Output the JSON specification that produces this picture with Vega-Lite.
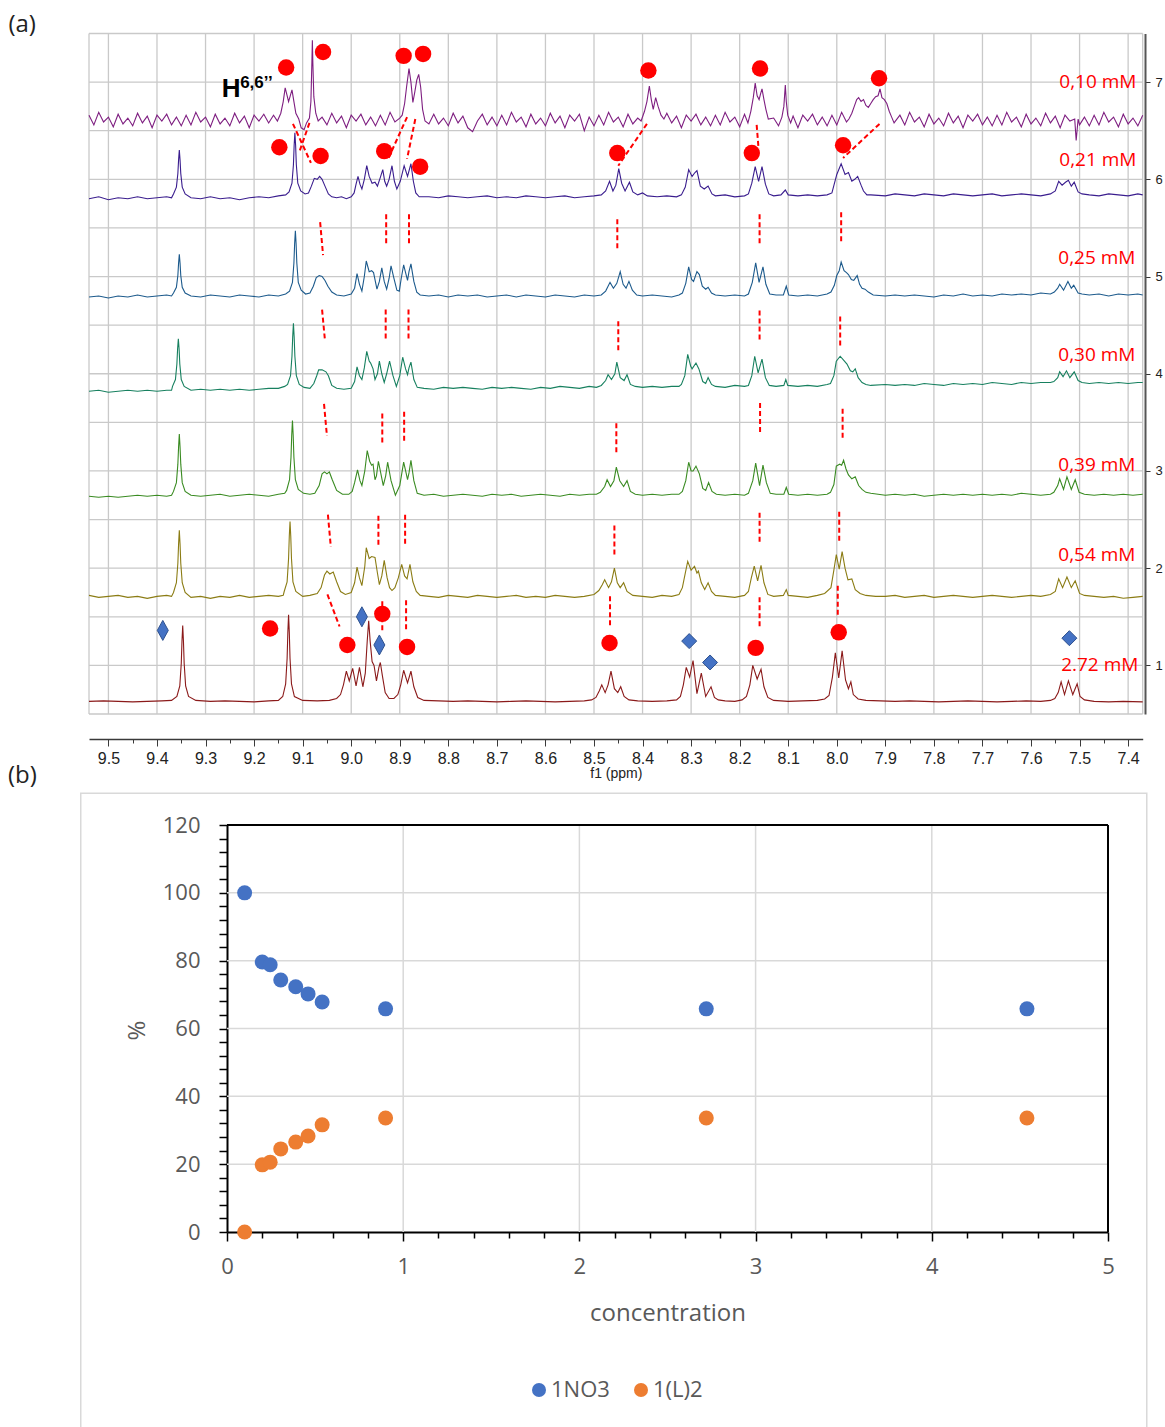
{
"$schema": "https://vega.github.io/schema/vega-lite/v6.json",
"width": 1165, "height": 1427,
"autosize": {"type": "none"},
"padding": 0,
"background": "#ffffff",
"config": {"view": {"stroke": null}, "font": "Open Sans"},
"datasets": {
"spec": [
{"s":"a","x":9.54,"y":6.66},{"s":"a","x":9.53,"y":6.56},{"s":"a","x":9.52,"y":6.69},{"s":"a","x":9.51,"y":6.59},{"s":"a","x":9.50,"y":6.64},{"s":"a","x":9.49,"y":6.54},{"s":"a","x":9.48,"y":6.67},{"s":"a","x":9.47,"y":6.57},{"s":"a","x":9.46,"y":6.63},{"s":"a","x":9.45,"y":6.55},{"s":"a","x":9.44,"y":6.68},{"s":"a","x":9.43,"y":6.58},{"s":"a","x":9.42,"y":6.65},{"s":"a","x":9.41,"y":6.53},{"s":"a","x":9.40,"y":6.66},{"s":"a","x":9.39,"y":6.60},{"s":"a","x":9.38,"y":6.67},{"s":"a","x":9.37,"y":6.56},{"s":"a","x":9.36,"y":6.64},{"s":"a","x":9.35,"y":6.55},{"s":"a","x":9.34,"y":6.66},{"s":"a","x":9.33,"y":6.56},{"s":"a","x":9.32,"y":6.69},{"s":"a","x":9.31,"y":6.59},{"s":"a","x":9.30,"y":6.64},{"s":"a","x":9.29,"y":6.54},{"s":"a","x":9.28,"y":6.67},{"s":"a","x":9.27,"y":6.57},{"s":"a","x":9.26,"y":6.63},{"s":"a","x":9.25,"y":6.55},{"s":"a","x":9.24,"y":6.68},{"s":"a","x":9.23,"y":6.58},{"s":"a","x":9.22,"y":6.65},{"s":"a","x":9.21,"y":6.53},{"s":"a","x":9.20,"y":6.66},{"s":"a","x":9.19,"y":6.60},{"s":"a","x":9.18,"y":6.67},{"s":"a","x":9.17,"y":6.58},{"s":"a","x":9.16,"y":6.66},{"s":"a","x":9.152,"y":6.60},
{"s":"a","x":9.145,"y":6.68},{"s":"a","x":9.140,"y":6.80},{"s":"a","x":9.136,"y":6.94},{"s":"a","x":9.132,"y":6.86},{"s":"a","x":9.129,"y":6.80},{"s":"a","x":9.126,"y":6.85},{"s":"a","x":9.122,"y":6.92},{"s":"a","x":9.118,"y":6.80},{"s":"a","x":9.114,"y":6.68},{"s":"a","x":9.108,"y":6.62},{"s":"a","x":9.103,"y":6.53},{"s":"a","x":9.097,"y":6.51},{"s":"a","x":9.092,"y":6.58},{"s":"a","x":9.086,"y":6.63},{"s":"a","x":9.083,"y":6.80},{"s":"a","x":9.081,"y":7.20},{"s":"a","x":9.080,"y":7.43},{"s":"a","x":9.079,"y":7.20},{"s":"a","x":9.077,"y":6.85},{"s":"a","x":9.073,"y":6.68},{"s":"a","x":9.068,"y":6.60},{"s":"a","x":9.06,"y":6.64},
{"s":"a","x":9.05,"y":6.56},{"s":"a","x":9.04,"y":6.68},{"s":"a","x":9.03,"y":6.58},{"s":"a","x":9.02,"y":6.65},{"s":"a","x":9.01,"y":6.53},{"s":"a","x":9.00,"y":6.66},{"s":"a","x":8.99,"y":6.60},{"s":"a","x":8.98,"y":6.67},{"s":"a","x":8.97,"y":6.56},{"s":"a","x":8.96,"y":6.64},{"s":"a","x":8.95,"y":6.55},{"s":"a","x":8.94,"y":6.66},{"s":"a","x":8.93,"y":6.56},{"s":"a","x":8.92,"y":6.69},{"s":"a","x":8.91,"y":6.59},{"s":"a","x":8.90,"y":6.63},
{"s":"a","x":8.895,"y":6.66},{"s":"a","x":8.890,"y":6.78},{"s":"a","x":8.886,"y":6.95},{"s":"a","x":8.881,"y":7.14},{"s":"a","x":8.877,"y":7.00},{"s":"a","x":8.873,"y":6.79},{"s":"a","x":8.869,"y":6.90},{"s":"a","x":8.865,"y":7.02},{"s":"a","x":8.861,"y":7.08},{"s":"a","x":8.857,"y":6.95},{"s":"a","x":8.853,"y":6.72},{"s":"a","x":8.848,"y":6.60},{"s":"a","x":8.84,"y":6.57},
{"s":"a","x":8.83,"y":6.67},{"s":"a","x":8.82,"y":6.57},{"s":"a","x":8.81,"y":6.63},{"s":"a","x":8.80,"y":6.55},{"s":"a","x":8.79,"y":6.68},{"s":"a","x":8.78,"y":6.58},{"s":"a","x":8.77,"y":6.65},{"s":"a","x":8.76,"y":6.53},{"s":"a","x":8.75,"y":6.49},{"s":"a","x":8.74,"y":6.60},{"s":"a","x":8.73,"y":6.67},{"s":"a","x":8.72,"y":6.56},{"s":"a","x":8.71,"y":6.64},{"s":"a","x":8.70,"y":6.55},{"s":"a","x":8.69,"y":6.66},{"s":"a","x":8.68,"y":6.56},{"s":"a","x":8.67,"y":6.69},{"s":"a","x":8.66,"y":6.59},{"s":"a","x":8.65,"y":6.64},{"s":"a","x":8.64,"y":6.54},{"s":"a","x":8.63,"y":6.67},{"s":"a","x":8.62,"y":6.57},{"s":"a","x":8.61,"y":6.63},{"s":"a","x":8.60,"y":6.55},{"s":"a","x":8.59,"y":6.68},{"s":"a","x":8.58,"y":6.58},{"s":"a","x":8.57,"y":6.65},{"s":"a","x":8.56,"y":6.53},{"s":"a","x":8.55,"y":6.66},{"s":"a","x":8.54,"y":6.60},{"s":"a","x":8.53,"y":6.67},{"s":"a","x":8.52,"y":6.50},{"s":"a","x":8.51,"y":6.64},{"s":"a","x":8.50,"y":6.55},{"s":"a","x":8.49,"y":6.66},{"s":"a","x":8.48,"y":6.56},{"s":"a","x":8.47,"y":6.69},{"s":"a","x":8.46,"y":6.59},{"s":"a","x":8.45,"y":6.64},{"s":"a","x":8.44,"y":6.54},{"s":"a","x":8.43,"y":6.67},{"s":"a","x":8.42,"y":6.57},{"s":"a","x":8.41,"y":6.63},
{"s":"a","x":8.403,"y":6.60},{"s":"a","x":8.396,"y":6.70},{"s":"a","x":8.391,"y":6.80},{"s":"a","x":8.386,"y":6.96},{"s":"a","x":8.382,"y":6.82},{"s":"a","x":8.378,"y":6.72},{"s":"a","x":8.373,"y":6.84},{"s":"a","x":8.368,"y":6.75},{"s":"a","x":8.362,"y":6.66},{"s":"a","x":8.356,"y":6.62},
{"s":"a","x":8.35,"y":6.68},{"s":"a","x":8.34,"y":6.58},{"s":"a","x":8.33,"y":6.65},{"s":"a","x":8.32,"y":6.53},{"s":"a","x":8.31,"y":6.66},{"s":"a","x":8.30,"y":6.60},{"s":"a","x":8.29,"y":6.67},{"s":"a","x":8.28,"y":6.56},{"s":"a","x":8.27,"y":6.64},{"s":"a","x":8.26,"y":6.55},{"s":"a","x":8.25,"y":6.66},{"s":"a","x":8.24,"y":6.56},{"s":"a","x":8.23,"y":6.69},{"s":"a","x":8.22,"y":6.59},{"s":"a","x":8.21,"y":6.64},{"s":"a","x":8.20,"y":6.54},{"s":"a","x":8.19,"y":6.67},
{"s":"a","x":8.183,"y":6.58},{"s":"a","x":8.177,"y":6.70},{"s":"a","x":8.172,"y":6.84},{"s":"a","x":8.168,"y":6.99},{"s":"a","x":8.164,"y":6.86},{"s":"a","x":8.160,"y":6.82},{"s":"a","x":8.157,"y":6.88},{"s":"a","x":8.154,"y":6.93},{"s":"a","x":8.150,"y":6.82},{"s":"a","x":8.146,"y":6.72},{"s":"a","x":8.141,"y":6.62},
{"s":"a","x":8.13,"y":6.63},{"s":"a","x":8.12,"y":6.55},{"s":"a","x":8.113,"y":6.64},{"s":"a","x":8.109,"y":6.75},{"s":"a","x":8.106,"y":6.97},{"s":"a","x":8.104,"y":6.80},{"s":"a","x":8.101,"y":6.66},{"s":"a","x":8.095,"y":6.58},{"s":"a","x":8.09,"y":6.65},{"s":"a","x":8.08,"y":6.53},{"s":"a","x":8.07,"y":6.66},{"s":"a","x":8.06,"y":6.60},{"s":"a","x":8.05,"y":6.67},{"s":"a","x":8.04,"y":6.56},{"s":"a","x":8.03,"y":6.64},{"s":"a","x":8.02,"y":6.55},{"s":"a","x":8.01,"y":6.66},{"s":"a","x":8.00,"y":6.56},{"s":"a","x":7.99,"y":6.69},{"s":"a","x":7.98,"y":6.59},{"s":"a","x":7.975,"y":6.62},
{"s":"a","x":7.969,"y":6.68},{"s":"a","x":7.964,"y":6.75},{"s":"a","x":7.959,"y":6.82},{"s":"a","x":7.955,"y":6.84},{"s":"a","x":7.950,"y":6.80},{"s":"a","x":7.945,"y":6.82},{"s":"a","x":7.940,"y":6.76},{"s":"a","x":7.935,"y":6.74},{"s":"a","x":7.930,"y":6.78},{"s":"a","x":7.925,"y":6.82},{"s":"a","x":7.920,"y":6.85},{"s":"a","x":7.915,"y":6.86},{"s":"a","x":7.911,"y":6.93},{"s":"a","x":7.907,"y":6.84},{"s":"a","x":7.902,"y":6.82},{"s":"a","x":7.897,"y":6.78},{"s":"a","x":7.892,"y":6.70},{"s":"a","x":7.887,"y":6.64},{"s":"a","x":7.882,"y":6.58},
{"s":"a","x":7.87,"y":6.66},{"s":"a","x":7.86,"y":6.56},{"s":"a","x":7.85,"y":6.69},{"s":"a","x":7.84,"y":6.59},{"s":"a","x":7.83,"y":6.64},{"s":"a","x":7.82,"y":6.54},{"s":"a","x":7.81,"y":6.67},{"s":"a","x":7.80,"y":6.57},{"s":"a","x":7.79,"y":6.63},{"s":"a","x":7.78,"y":6.55},{"s":"a","x":7.77,"y":6.68},{"s":"a","x":7.76,"y":6.58},{"s":"a","x":7.75,"y":6.65},{"s":"a","x":7.74,"y":6.53},{"s":"a","x":7.73,"y":6.66},{"s":"a","x":7.72,"y":6.60},{"s":"a","x":7.71,"y":6.67},{"s":"a","x":7.70,"y":6.56},{"s":"a","x":7.69,"y":6.64},{"s":"a","x":7.68,"y":6.55},{"s":"a","x":7.67,"y":6.66},{"s":"a","x":7.66,"y":6.56},{"s":"a","x":7.65,"y":6.69},{"s":"a","x":7.64,"y":6.59},{"s":"a","x":7.63,"y":6.64},{"s":"a","x":7.62,"y":6.54},{"s":"a","x":7.61,"y":6.67},{"s":"a","x":7.60,"y":6.57},{"s":"a","x":7.59,"y":6.63},{"s":"a","x":7.58,"y":6.55},{"s":"a","x":7.57,"y":6.68},{"s":"a","x":7.56,"y":6.58},{"s":"a","x":7.55,"y":6.65},{"s":"a","x":7.54,"y":6.53},{"s":"a","x":7.53,"y":6.66},{"s":"a","x":7.52,"y":6.60},{"s":"a","x":7.51,"y":6.62},{"s":"a","x":7.507,"y":6.40},{"s":"a","x":7.503,"y":6.62},{"s":"a","x":7.50,"y":6.56},{"s":"a","x":7.49,"y":6.64},{"s":"a","x":7.48,"y":6.55},{"s":"a","x":7.47,"y":6.66},{"s":"a","x":7.46,"y":6.56},{"s":"a","x":7.45,"y":6.69},{"s":"a","x":7.44,"y":6.59},{"s":"a","x":7.43,"y":6.64},{"s":"a","x":7.42,"y":6.54},{"s":"a","x":7.41,"y":6.67},{"s":"a","x":7.40,"y":6.57},{"s":"a","x":7.39,"y":6.63},{"s":"a","x":7.38,"y":6.55},{"s":"a","x":7.37,"y":6.66},

{"s":"b","x":9.54,"y":5.80},{"s":"b","x":9.52,"y":5.82},{"s":"b","x":9.50,"y":5.79},{"s":"b","x":9.48,"y":5.81},{"s":"b","x":9.46,"y":5.80},{"s":"b","x":9.44,"y":5.82},{"s":"b","x":9.42,"y":5.80},{"s":"b","x":9.40,"y":5.81},{"s":"b","x":9.38,"y":5.82},{"s":"b","x":9.37,"y":5.81},
{"s":"b","x":9.366,"y":5.85},{"s":"b","x":9.360,"y":5.92},{"s":"b","x":9.357,"y":6.06},{"s":"b","x":9.3555,"y":6.20},{"s":"b","x":9.354,"y":6.30},{"s":"b","x":9.3525,"y":6.20},{"s":"b","x":9.351,"y":6.06},{"s":"b","x":9.348,"y":5.92},{"s":"b","x":9.342,"y":5.85},
{"s":"b","x":9.33,"y":5.81},{"s":"b","x":9.31,"y":5.80},{"s":"b","x":9.29,"y":5.82},{"s":"b","x":9.27,"y":5.80},{"s":"b","x":9.25,"y":5.81},{"s":"b","x":9.23,"y":5.79},{"s":"b","x":9.21,"y":5.81},{"s":"b","x":9.19,"y":5.82},{"s":"b","x":9.17,"y":5.81},{"s":"b","x":9.15,"y":5.83},{"s":"b","x":9.135,"y":5.84},
{"s":"b","x":9.128,"y":5.87},{"s":"b","x":9.122,"y":5.96},{"s":"b","x":9.119,"y":6.15},{"s":"b","x":9.1175,"y":6.35},{"s":"b","x":9.116,"y":6.48},{"s":"b","x":9.1145,"y":6.35},{"s":"b","x":9.113,"y":6.15},{"s":"b","x":9.110,"y":5.96},{"s":"b","x":9.104,"y":5.88},
{"s":"b","x":9.095,"y":5.85},{"s":"b","x":9.088,"y":5.86},{"s":"b","x":9.082,"y":5.93},{"s":"b","x":9.076,"y":6.01},{"s":"b","x":9.070,"y":6.00},{"s":"b","x":9.065,"y":6.03},{"s":"b","x":9.060,"y":6.00},{"s":"b","x":9.054,"y":5.93},{"s":"b","x":9.047,"y":5.85},{"s":"b","x":9.04,"y":5.82},{"s":"b","x":9.03,"y":5.81},{"s":"b","x":9.02,"y":5.82},{"s":"b","x":9.01,"y":5.80},{"s":"b","x":9.00,"y":5.82},
{"s":"b","x":8.994,"y":5.86},{"s":"b","x":8.990,"y":5.95},{"s":"b","x":8.986,"y":6.03},{"s":"b","x":8.982,"y":5.95},{"s":"b","x":8.978,"y":5.90},{"s":"b","x":8.973,"y":6.00},{"s":"b","x":8.968,"y":6.14},{"s":"b","x":8.963,"y":6.03},{"s":"b","x":8.957,"y":5.96},{"s":"b","x":8.951,"y":5.97},{"s":"b","x":8.946,"y":5.93},{"s":"b","x":8.940,"y":6.02},{"s":"b","x":8.935,"y":6.10},{"s":"b","x":8.931,"y":5.98},{"s":"b","x":8.927,"y":5.93},{"s":"b","x":8.922,"y":6.00},{"s":"b","x":8.916,"y":6.14},{"s":"b","x":8.911,"y":5.98},{"s":"b","x":8.906,"y":5.90},{"s":"b","x":8.899,"y":5.98},{"s":"b","x":8.891,"y":6.14},{"s":"b","x":8.884,"y":6.03},{"s":"b","x":8.877,"y":6.16},{"s":"b","x":8.872,"y":5.98},{"s":"b","x":8.867,"y":5.86},{"s":"b","x":8.86,"y":5.82},
{"s":"b","x":8.84,"y":5.82},{"s":"b","x":8.82,"y":5.81},{"s":"b","x":8.80,"y":5.83},{"s":"b","x":8.78,"y":5.82},{"s":"b","x":8.76,"y":5.81},{"s":"b","x":8.74,"y":5.82},{"s":"b","x":8.72,"y":5.83},{"s":"b","x":8.70,"y":5.81},{"s":"b","x":8.68,"y":5.82},{"s":"b","x":8.66,"y":5.81},{"s":"b","x":8.64,"y":5.83},{"s":"b","x":8.62,"y":5.82},{"s":"b","x":8.60,"y":5.81},{"s":"b","x":8.58,"y":5.82},{"s":"b","x":8.56,"y":5.83},{"s":"b","x":8.54,"y":5.81},{"s":"b","x":8.52,"y":5.82},{"s":"b","x":8.50,"y":5.83},{"s":"b","x":8.485,"y":5.84},
{"s":"b","x":8.476,"y":5.88},{"s":"b","x":8.468,"y":5.98},{"s":"b","x":8.461,"y":5.88},{"s":"b","x":8.455,"y":5.94},{"s":"b","x":8.449,"y":6.11},{"s":"b","x":8.443,"y":5.96},{"s":"b","x":8.436,"y":5.88},{"s":"b","x":8.427,"y":5.97},{"s":"b","x":8.420,"y":5.87},{"s":"b","x":8.41,"y":5.84},{"s":"b","x":8.40,"y":5.86},{"s":"b","x":8.39,"y":5.83},{"s":"b","x":8.37,"y":5.82},{"s":"b","x":8.35,"y":5.83},{"s":"b","x":8.33,"y":5.82},{"s":"b","x":8.32,"y":5.84},
{"s":"b","x":8.312,"y":5.92},{"s":"b","x":8.305,"y":6.10},{"s":"b","x":8.298,"y":6.03},{"s":"b","x":8.292,"y":6.07},{"s":"b","x":8.288,"y":6.09},{"s":"b","x":8.281,"y":5.93},{"s":"b","x":8.273,"y":5.90},{"s":"b","x":8.265,"y":5.93},{"s":"b","x":8.257,"y":5.85},{"s":"b","x":8.25,"y":5.83},{"s":"b","x":8.23,"y":5.84},{"s":"b","x":8.21,"y":5.82},{"s":"b","x":8.19,"y":5.83},{"s":"b","x":8.182,"y":5.85},
{"s":"b","x":8.175,"y":5.96},{"s":"b","x":8.168,"y":6.13},{"s":"b","x":8.161,"y":5.98},{"s":"b","x":8.154,"y":6.13},{"s":"b","x":8.147,"y":5.95},{"s":"b","x":8.140,"y":5.85},{"s":"b","x":8.13,"y":5.83},{"s":"b","x":8.115,"y":5.84},{"s":"b","x":8.106,"y":5.89},{"s":"b","x":8.10,"y":5.84},{"s":"b","x":8.08,"y":5.83},{"s":"b","x":8.06,"y":5.84},{"s":"b","x":8.04,"y":5.83},{"s":"b","x":8.02,"y":5.84},{"s":"b","x":8.01,"y":5.86},
{"s":"b","x":8.000,"y":6.05},{"s":"b","x":7.991,"y":6.16},{"s":"b","x":7.983,"y":6.05},{"s":"b","x":7.976,"y":6.07},{"s":"b","x":7.969,"y":5.98},{"s":"b","x":7.963,"y":6.00},{"s":"b","x":7.957,"y":6.03},{"s":"b","x":7.950,"y":5.94},{"s":"b","x":7.945,"y":5.88},{"s":"b","x":7.938,"y":5.84},{"s":"b","x":7.93,"y":5.84},
{"s":"b","x":7.90,"y":5.83},{"s":"b","x":7.88,"y":5.85},{"s":"b","x":7.86,"y":5.84},{"s":"b","x":7.84,"y":5.83},{"s":"b","x":7.82,"y":5.85},{"s":"b","x":7.80,"y":5.84},{"s":"b","x":7.78,"y":5.83},{"s":"b","x":7.76,"y":5.85},{"s":"b","x":7.74,"y":5.84},{"s":"b","x":7.72,"y":5.83},{"s":"b","x":7.70,"y":5.84},{"s":"b","x":7.68,"y":5.85},{"s":"b","x":7.66,"y":5.83},{"s":"b","x":7.64,"y":5.84},{"s":"b","x":7.62,"y":5.85},{"s":"b","x":7.60,"y":5.84},{"s":"b","x":7.58,"y":5.83},{"s":"b","x":7.56,"y":5.85},
{"s":"b","x":7.550,"y":5.88},{"s":"b","x":7.543,"y":5.98},{"s":"b","x":7.536,"y":5.94},{"s":"b","x":7.529,"y":5.97},{"s":"b","x":7.523,"y":5.99},{"s":"b","x":7.517,"y":5.93},{"s":"b","x":7.511,"y":5.97},{"s":"b","x":7.503,"y":5.87},{"s":"b","x":7.495,"y":5.85},
{"s":"b","x":7.48,"y":5.84},{"s":"b","x":7.46,"y":5.83},{"s":"b","x":7.44,"y":5.85},{"s":"b","x":7.42,"y":5.84},{"s":"b","x":7.40,"y":5.83},{"s":"b","x":7.38,"y":5.85},{"s":"b","x":7.37,"y":5.84},

{"s":"c","x":9.54,"y":4.79},{"s":"c","x":9.52,"y":4.80},{"s":"c","x":9.50,"y":4.78},{"s":"c","x":9.48,"y":4.80},{"s":"c","x":9.46,"y":4.79},{"s":"c","x":9.44,"y":4.81},{"s":"c","x":9.42,"y":4.79},{"s":"c","x":9.40,"y":4.80},{"s":"c","x":9.38,"y":4.81},{"s":"c","x":9.37,"y":4.80},
{"s":"c","x":9.366,"y":4.83},{"s":"c","x":9.360,"y":4.89},{"s":"c","x":9.357,"y":5.01},{"s":"c","x":9.3555,"y":5.14},{"s":"c","x":9.354,"y":5.23},{"s":"c","x":9.3525,"y":5.14},{"s":"c","x":9.351,"y":5.01},{"s":"c","x":9.348,"y":4.89},{"s":"c","x":9.342,"y":4.83},
{"s":"c","x":9.33,"y":4.80},{"s":"c","x":9.31,"y":4.79},{"s":"c","x":9.29,"y":4.81},{"s":"c","x":9.27,"y":4.80},{"s":"c","x":9.25,"y":4.79},{"s":"c","x":9.23,"y":4.81},{"s":"c","x":9.21,"y":4.80},{"s":"c","x":9.19,"y":4.79},{"s":"c","x":9.17,"y":4.81},{"s":"c","x":9.15,"y":4.80},{"s":"c","x":9.135,"y":4.82},
{"s":"c","x":9.127,"y":4.85},{"s":"c","x":9.121,"y":4.94},{"s":"c","x":9.118,"y":5.14},{"s":"c","x":9.1165,"y":5.34},{"s":"c","x":9.115,"y":5.47},{"s":"c","x":9.1135,"y":5.34},{"s":"c","x":9.112,"y":5.14},{"s":"c","x":9.109,"y":4.94},{"s":"c","x":9.103,"y":4.86},
{"s":"c","x":9.094,"y":4.82},{"s":"c","x":9.085,"y":4.83},{"s":"c","x":9.078,"y":4.90},{"s":"c","x":9.072,"y":4.99},{"s":"c","x":9.066,"y":5.01},{"s":"c","x":9.060,"y":5.00},{"s":"c","x":9.054,"y":4.96},{"s":"c","x":9.048,"y":4.90},{"s":"c","x":9.040,"y":4.84},{"s":"c","x":9.03,"y":4.81},{"s":"c","x":9.015,"y":4.80},{"s":"c","x":9.00,"y":4.82},
{"s":"c","x":8.993,"y":4.88},{"s":"c","x":8.988,"y":5.03},{"s":"c","x":8.983,"y":4.92},{"s":"c","x":8.978,"y":4.85},{"s":"c","x":8.973,"y":5.00},{"s":"c","x":8.969,"y":5.16},{"s":"c","x":8.963,"y":5.05},{"s":"c","x":8.958,"y":5.06},{"s":"c","x":8.954,"y":5.04},{"s":"c","x":8.947,"y":4.87},{"s":"c","x":8.942,"y":4.95},{"s":"c","x":8.937,"y":5.09},{"s":"c","x":8.932,"y":4.95},{"s":"c","x":8.927,"y":4.87},{"s":"c","x":8.922,"y":4.98},{"s":"c","x":8.918,"y":5.11},{"s":"c","x":8.912,"y":4.98},{"s":"c","x":8.906,"y":4.86},{"s":"c","x":8.901,"y":4.85},{"s":"c","x":8.897,"y":4.98},{"s":"c","x":8.892,"y":5.12},{"s":"c","x":8.887,"y":5.02},{"s":"c","x":8.884,"y":4.96},{"s":"c","x":8.881,"y":5.05},{"s":"c","x":8.877,"y":5.13},{"s":"c","x":8.871,"y":4.95},{"s":"c","x":8.865,"y":4.84},{"s":"c","x":8.858,"y":4.81},
{"s":"c","x":8.84,"y":4.80},{"s":"c","x":8.82,"y":4.81},{"s":"c","x":8.80,"y":4.79},{"s":"c","x":8.78,"y":4.81},{"s":"c","x":8.76,"y":4.80},{"s":"c","x":8.74,"y":4.81},{"s":"c","x":8.72,"y":4.79},{"s":"c","x":8.70,"y":4.80},{"s":"c","x":8.68,"y":4.81},{"s":"c","x":8.66,"y":4.79},{"s":"c","x":8.64,"y":4.81},{"s":"c","x":8.62,"y":4.80},{"s":"c","x":8.60,"y":4.79},{"s":"c","x":8.58,"y":4.81},{"s":"c","x":8.56,"y":4.80},{"s":"c","x":8.54,"y":4.79},{"s":"c","x":8.52,"y":4.81},{"s":"c","x":8.50,"y":4.80},{"s":"c","x":8.485,"y":4.81},
{"s":"c","x":8.476,"y":4.85},{"s":"c","x":8.467,"y":4.94},{"s":"c","x":8.460,"y":4.88},{"s":"c","x":8.453,"y":4.93},{"s":"c","x":8.446,"y":5.05},{"s":"c","x":8.440,"y":4.92},{"s":"c","x":8.434,"y":4.88},{"s":"c","x":8.428,"y":4.95},{"s":"c","x":8.421,"y":4.86},{"s":"c","x":8.412,"y":4.81},{"s":"c","x":8.40,"y":4.80},{"s":"c","x":8.38,"y":4.81},{"s":"c","x":8.36,"y":4.80},{"s":"c","x":8.34,"y":4.79},{"s":"c","x":8.325,"y":4.81},
{"s":"c","x":8.318,"y":4.83},{"s":"c","x":8.311,"y":4.93},{"s":"c","x":8.305,"y":5.10},{"s":"c","x":8.299,"y":4.97},{"s":"c","x":8.295,"y":4.95},{"s":"c","x":8.288,"y":5.05},{"s":"c","x":8.283,"y":5.02},{"s":"c","x":8.277,"y":4.90},{"s":"c","x":8.270,"y":4.87},{"s":"c","x":8.265,"y":4.89},{"s":"c","x":8.258,"y":4.83},{"s":"c","x":8.250,"y":4.81},{"s":"c","x":8.23,"y":4.80},{"s":"c","x":8.21,"y":4.81},{"s":"c","x":8.19,"y":4.80},{"s":"c","x":8.182,"y":4.82},
{"s":"c","x":8.174,"y":4.94},{"s":"c","x":8.167,"y":5.14},{"s":"c","x":8.160,"y":4.94},{"s":"c","x":8.152,"y":5.10},{"s":"c","x":8.146,"y":4.92},{"s":"c","x":8.138,"y":4.82},{"s":"c","x":8.125,"y":4.81},{"s":"c","x":8.110,"y":4.81},{"s":"c","x":8.104,"y":4.90},{"s":"c","x":8.099,"y":4.81},{"s":"c","x":8.08,"y":4.80},{"s":"c","x":8.06,"y":4.81},{"s":"c","x":8.04,"y":4.80},{"s":"c","x":8.02,"y":4.82},
{"s":"c","x":8.012,"y":4.84},{"s":"c","x":8.005,"y":4.91},{"s":"c","x":8.000,"y":5.01},{"s":"c","x":7.995,"y":5.06},{"s":"c","x":7.991,"y":5.15},{"s":"c","x":7.985,"y":5.06},{"s":"c","x":7.980,"y":5.04},{"s":"c","x":7.976,"y":5.02},{"s":"c","x":7.970,"y":4.97},{"s":"c","x":7.965,"y":4.96},{"s":"c","x":7.958,"y":5.01},{"s":"c","x":7.953,"y":4.92},{"s":"c","x":7.948,"y":4.88},{"s":"c","x":7.942,"y":4.87},{"s":"c","x":7.935,"y":4.84},{"s":"c","x":7.925,"y":4.81},
{"s":"c","x":7.90,"y":4.80},{"s":"c","x":7.88,"y":4.81},{"s":"c","x":7.86,"y":4.80},{"s":"c","x":7.84,"y":4.81},{"s":"c","x":7.82,"y":4.80},{"s":"c","x":7.80,"y":4.79},{"s":"c","x":7.78,"y":4.81},{"s":"c","x":7.76,"y":4.80},{"s":"c","x":7.74,"y":4.82},{"s":"c","x":7.72,"y":4.80},{"s":"c","x":7.70,"y":4.81},{"s":"c","x":7.68,"y":4.80},{"s":"c","x":7.66,"y":4.82},{"s":"c","x":7.64,"y":4.81},{"s":"c","x":7.62,"y":4.82},{"s":"c","x":7.60,"y":4.81},{"s":"c","x":7.58,"y":4.83},{"s":"c","x":7.56,"y":4.82},
{"s":"c","x":7.552,"y":4.84},{"s":"c","x":7.545,"y":4.88},{"s":"c","x":7.541,"y":4.92},{"s":"c","x":7.533,"y":4.86},{"s":"c","x":7.524,"y":4.95},{"s":"c","x":7.517,"y":4.88},{"s":"c","x":7.512,"y":4.91},{"s":"c","x":7.503,"y":4.83},{"s":"c","x":7.495,"y":4.82},
{"s":"c","x":7.48,"y":4.81},{"s":"c","x":7.46,"y":4.82},{"s":"c","x":7.44,"y":4.80},{"s":"c","x":7.42,"y":4.82},{"s":"c","x":7.40,"y":4.81},{"s":"c","x":7.38,"y":4.82},{"s":"c","x":7.37,"y":4.81},

{"s":"d","x":9.54,"y":3.82},{"s":"d","x":9.52,"y":3.83},{"s":"d","x":9.50,"y":3.81},{"s":"d","x":9.48,"y":3.82},{"s":"d","x":9.46,"y":3.83},{"s":"d","x":9.44,"y":3.82},{"s":"d","x":9.42,"y":3.83},{"s":"d","x":9.40,"y":3.82},{"s":"d","x":9.38,"y":3.83},{"s":"d","x":9.37,"y":3.83},
{"s":"d","x":9.368,"y":3.87},{"s":"d","x":9.362,"y":3.94},{"s":"d","x":9.359,"y":4.10},{"s":"d","x":9.3575,"y":4.26},{"s":"d","x":9.356,"y":4.36},{"s":"d","x":9.3545,"y":4.26},{"s":"d","x":9.353,"y":4.10},{"s":"d","x":9.350,"y":3.94},{"s":"d","x":9.344,"y":3.87},
{"s":"d","x":9.33,"y":3.83},{"s":"d","x":9.31,"y":3.84},{"s":"d","x":9.29,"y":3.83},{"s":"d","x":9.27,"y":3.84},{"s":"d","x":9.25,"y":3.83},{"s":"d","x":9.23,"y":3.84},{"s":"d","x":9.21,"y":3.83},{"s":"d","x":9.19,"y":3.84},{"s":"d","x":9.17,"y":3.85},{"s":"d","x":9.15,"y":3.85},{"s":"d","x":9.137,"y":3.87},
{"s":"d","x":9.131,"y":3.89},{"s":"d","x":9.125,"y":3.98},{"s":"d","x":9.122,"y":4.18},{"s":"d","x":9.1205,"y":4.38},{"s":"d","x":9.119,"y":4.52},{"s":"d","x":9.1175,"y":4.38},{"s":"d","x":9.116,"y":4.18},{"s":"d","x":9.113,"y":3.98},{"s":"d","x":9.107,"y":3.89},
{"s":"d","x":9.097,"y":3.86},{"s":"d","x":9.085,"y":3.85},{"s":"d","x":9.077,"y":3.90},{"s":"d","x":9.071,"y":3.98},{"s":"d","x":9.067,"y":4.04},{"s":"d","x":9.060,"y":4.04},{"s":"d","x":9.052,"y":4.02},{"s":"d","x":9.047,"y":3.98},{"s":"d","x":9.040,"y":3.88},{"s":"d","x":9.03,"y":3.85},{"s":"d","x":9.015,"y":3.84},{"s":"d","x":9.00,"y":3.85},
{"s":"d","x":8.993,"y":3.92},{"s":"d","x":8.988,"y":4.07},{"s":"d","x":8.983,"y":3.98},{"s":"d","x":8.978,"y":3.94},{"s":"d","x":8.973,"y":4.06},{"s":"d","x":8.968,"y":4.23},{"s":"d","x":8.963,"y":4.13},{"s":"d","x":8.960,"y":4.11},{"s":"d","x":8.955,"y":4.05},{"s":"d","x":8.951,"y":3.94},{"s":"d","x":8.946,"y":4.00},{"s":"d","x":8.942,"y":4.13},{"s":"d","x":8.937,"y":4.00},{"s":"d","x":8.932,"y":3.91},{"s":"d","x":8.927,"y":4.00},{"s":"d","x":8.921,"y":4.13},{"s":"d","x":8.914,"y":3.98},{"s":"d","x":8.907,"y":3.87},{"s":"d","x":8.900,"y":3.98},{"s":"d","x":8.894,"y":4.17},{"s":"d","x":8.888,"y":4.05},{"s":"d","x":8.884,"y":3.99},{"s":"d","x":8.881,"y":4.06},{"s":"d","x":8.877,"y":4.12},{"s":"d","x":8.871,"y":3.94},{"s":"d","x":8.864,"y":3.86},
{"s":"d","x":8.85,"y":3.85},{"s":"d","x":8.83,"y":3.84},{"s":"d","x":8.81,"y":3.86},{"s":"d","x":8.79,"y":3.85},{"s":"d","x":8.77,"y":3.86},{"s":"d","x":8.75,"y":3.85},{"s":"d","x":8.73,"y":3.84},{"s":"d","x":8.71,"y":3.86},{"s":"d","x":8.69,"y":3.85},{"s":"d","x":8.67,"y":3.86},{"s":"d","x":8.65,"y":3.85},{"s":"d","x":8.63,"y":3.84},{"s":"d","x":8.61,"y":3.86},{"s":"d","x":8.59,"y":3.85},{"s":"d","x":8.57,"y":3.87},{"s":"d","x":8.55,"y":3.86},{"s":"d","x":8.53,"y":3.85},{"s":"d","x":8.51,"y":3.87},{"s":"d","x":8.495,"y":3.86},
{"s":"d","x":8.485,"y":3.88},{"s":"d","x":8.476,"y":3.93},{"s":"d","x":8.471,"y":3.99},{"s":"d","x":8.464,"y":3.94},{"s":"d","x":8.457,"y":4.00},{"s":"d","x":8.453,"y":4.12},{"s":"d","x":8.446,"y":3.96},{"s":"d","x":8.438,"y":3.93},{"s":"d","x":8.432,"y":3.99},{"s":"d","x":8.425,"y":3.89},{"s":"d","x":8.415,"y":3.87},{"s":"d","x":8.40,"y":3.86},{"s":"d","x":8.38,"y":3.87},{"s":"d","x":8.36,"y":3.86},{"s":"d","x":8.34,"y":3.87},{"s":"d","x":8.325,"y":3.87},
{"s":"d","x":8.320,"y":3.89},{"s":"d","x":8.313,"y":3.98},{"s":"d","x":8.307,"y":4.20},{"s":"d","x":8.301,"y":4.08},{"s":"d","x":8.298,"y":4.05},{"s":"d","x":8.290,"y":4.11},{"s":"d","x":8.284,"y":4.05},{"s":"d","x":8.276,"y":3.92},{"s":"d","x":8.270,"y":3.90},{"s":"d","x":8.265,"y":3.96},{"s":"d","x":8.258,"y":3.89},{"s":"d","x":8.250,"y":3.87},{"s":"d","x":8.23,"y":3.86},{"s":"d","x":8.21,"y":3.88},{"s":"d","x":8.19,"y":3.87},{"s":"d","x":8.182,"y":3.88},
{"s":"d","x":8.175,"y":3.98},{"s":"d","x":8.169,"y":4.18},{"s":"d","x":8.162,"y":4.01},{"s":"d","x":8.154,"y":4.15},{"s":"d","x":8.147,"y":3.96},{"s":"d","x":8.139,"y":3.88},{"s":"d","x":8.125,"y":3.87},{"s":"d","x":8.109,"y":3.88},{"s":"d","x":8.105,"y":3.94},{"s":"d","x":8.101,"y":3.88},{"s":"d","x":8.08,"y":3.87},{"s":"d","x":8.06,"y":3.88},{"s":"d","x":8.04,"y":3.87},{"s":"d","x":8.02,"y":3.89},
{"s":"d","x":8.013,"y":3.90},{"s":"d","x":8.006,"y":3.98},{"s":"d","x":8.001,"y":4.13},{"s":"d","x":7.993,"y":4.18},{"s":"d","x":7.986,"y":4.14},{"s":"d","x":7.979,"y":4.10},{"s":"d","x":7.972,"y":4.03},{"s":"d","x":7.967,"y":4.02},{"s":"d","x":7.962,"y":4.05},{"s":"d","x":7.956,"y":3.96},{"s":"d","x":7.948,"y":3.91},{"s":"d","x":7.94,"y":3.89},{"s":"d","x":7.93,"y":3.88},
{"s":"d","x":7.90,"y":3.89},{"s":"d","x":7.88,"y":3.88},{"s":"d","x":7.86,"y":3.89},{"s":"d","x":7.84,"y":3.88},{"s":"d","x":7.82,"y":3.90},{"s":"d","x":7.80,"y":3.89},{"s":"d","x":7.78,"y":3.88},{"s":"d","x":7.76,"y":3.90},{"s":"d","x":7.74,"y":3.89},{"s":"d","x":7.72,"y":3.90},{"s":"d","x":7.70,"y":3.89},{"s":"d","x":7.68,"y":3.91},{"s":"d","x":7.66,"y":3.90},{"s":"d","x":7.64,"y":3.89},{"s":"d","x":7.62,"y":3.91},{"s":"d","x":7.60,"y":3.90},{"s":"d","x":7.58,"y":3.91},{"s":"d","x":7.56,"y":3.91},
{"s":"d","x":7.553,"y":3.92},{"s":"d","x":7.545,"y":3.96},{"s":"d","x":7.541,"y":4.02},{"s":"d","x":7.534,"y":3.97},{"s":"d","x":7.527,"y":4.03},{"s":"d","x":7.520,"y":3.96},{"s":"d","x":7.511,"y":4.02},{"s":"d","x":7.503,"y":3.93},{"s":"d","x":7.495,"y":3.91},
{"s":"d","x":7.48,"y":3.90},{"s":"d","x":7.46,"y":3.91},{"s":"d","x":7.44,"y":3.90},{"s":"d","x":7.42,"y":3.91},{"s":"d","x":7.40,"y":3.90},{"s":"d","x":7.38,"y":3.91},{"s":"d","x":7.37,"y":3.91},

{"s":"e","x":9.54,"y":2.74},{"s":"e","x":9.52,"y":2.73},{"s":"e","x":9.50,"y":2.74},{"s":"e","x":9.48,"y":2.73},{"s":"e","x":9.46,"y":2.74},{"s":"e","x":9.44,"y":2.75},{"s":"e","x":9.42,"y":2.74},{"s":"e","x":9.40,"y":2.75},{"s":"e","x":9.38,"y":2.74},{"s":"e","x":9.37,"y":2.75},
{"s":"e","x":9.366,"y":2.79},{"s":"e","x":9.360,"y":2.88},{"s":"e","x":9.357,"y":3.07},{"s":"e","x":9.3555,"y":3.25},{"s":"e","x":9.354,"y":3.38},{"s":"e","x":9.3525,"y":3.25},{"s":"e","x":9.351,"y":3.07},{"s":"e","x":9.348,"y":2.88},{"s":"e","x":9.342,"y":2.79},
{"s":"e","x":9.33,"y":2.75},{"s":"e","x":9.31,"y":2.74},{"s":"e","x":9.29,"y":2.75},{"s":"e","x":9.27,"y":2.76},{"s":"e","x":9.25,"y":2.74},{"s":"e","x":9.23,"y":2.75},{"s":"e","x":9.21,"y":2.76},{"s":"e","x":9.19,"y":2.75},{"s":"e","x":9.17,"y":2.74},{"s":"e","x":9.15,"y":2.76},{"s":"e","x":9.137,"y":2.77},
{"s":"e","x":9.133,"y":2.80},{"s":"e","x":9.127,"y":2.91},{"s":"e","x":9.124,"y":3.14},{"s":"e","x":9.1225,"y":3.37},{"s":"e","x":9.121,"y":3.52},{"s":"e","x":9.1195,"y":3.37},{"s":"e","x":9.118,"y":3.14},{"s":"e","x":9.115,"y":2.91},{"s":"e","x":9.109,"y":2.81},
{"s":"e","x":9.098,"y":2.77},{"s":"e","x":9.085,"y":2.76},{"s":"e","x":9.075,"y":2.77},{"s":"e","x":9.066,"y":2.85},{"s":"e","x":9.060,"y":2.97},{"s":"e","x":9.055,"y":2.99},{"s":"e","x":9.050,"y":2.97},{"s":"e","x":9.045,"y":2.99},{"s":"e","x":9.039,"y":2.91},{"s":"e","x":9.030,"y":2.80},{"s":"e","x":9.018,"y":2.76},{"s":"e","x":9.005,"y":2.76},
{"s":"e","x":8.998,"y":2.79},{"s":"e","x":8.993,"y":2.88},{"s":"e","x":8.987,"y":3.01},{"s":"e","x":8.982,"y":2.90},{"s":"e","x":8.978,"y":2.85},{"s":"e","x":8.972,"y":3.00},{"s":"e","x":8.967,"y":3.21},{"s":"e","x":8.962,"y":3.10},{"s":"e","x":8.958,"y":3.06},{"s":"e","x":8.955,"y":3.07},{"s":"e","x":8.951,"y":2.91},{"s":"e","x":8.948,"y":2.95},{"s":"e","x":8.944,"y":3.10},{"s":"e","x":8.938,"y":2.95},{"s":"e","x":8.934,"y":2.85},{"s":"e","x":8.929,"y":2.95},{"s":"e","x":8.925,"y":3.09},{"s":"e","x":8.918,"y":2.90},{"s":"e","x":8.909,"y":2.75},{"s":"e","x":8.900,"y":2.85},{"s":"e","x":8.892,"y":3.09},{"s":"e","x":8.887,"y":2.98},{"s":"e","x":8.884,"y":2.91},{"s":"e","x":8.881,"y":2.98},{"s":"e","x":8.877,"y":3.11},{"s":"e","x":8.871,"y":2.90},{"s":"e","x":8.864,"y":2.77},
{"s":"e","x":8.85,"y":2.75},{"s":"e","x":8.83,"y":2.76},{"s":"e","x":8.81,"y":2.74},{"s":"e","x":8.79,"y":2.75},{"s":"e","x":8.77,"y":2.76},{"s":"e","x":8.75,"y":2.75},{"s":"e","x":8.73,"y":2.74},{"s":"e","x":8.71,"y":2.76},{"s":"e","x":8.69,"y":2.75},{"s":"e","x":8.67,"y":2.76},{"s":"e","x":8.65,"y":2.74},{"s":"e","x":8.63,"y":2.75},{"s":"e","x":8.61,"y":2.76},{"s":"e","x":8.59,"y":2.75},{"s":"e","x":8.57,"y":2.74},{"s":"e","x":8.55,"y":2.76},{"s":"e","x":8.53,"y":2.75},{"s":"e","x":8.51,"y":2.76},{"s":"e","x":8.495,"y":2.76},
{"s":"e","x":8.487,"y":2.78},{"s":"e","x":8.478,"y":2.84},{"s":"e","x":8.473,"y":2.91},{"s":"e","x":8.466,"y":2.84},{"s":"e","x":8.459,"y":2.90},{"s":"e","x":8.454,"y":3.04},{"s":"e","x":8.447,"y":2.90},{"s":"e","x":8.439,"y":2.84},{"s":"e","x":8.432,"y":2.90},{"s":"e","x":8.425,"y":2.79},{"s":"e","x":8.415,"y":2.76},{"s":"e","x":8.40,"y":2.75},{"s":"e","x":8.38,"y":2.76},{"s":"e","x":8.36,"y":2.75},{"s":"e","x":8.34,"y":2.76},{"s":"e","x":8.325,"y":2.76},
{"s":"e","x":8.318,"y":2.79},{"s":"e","x":8.311,"y":2.90},{"s":"e","x":8.305,"y":3.09},{"s":"e","x":8.300,"y":3.00},{"s":"e","x":8.296,"y":3.00},{"s":"e","x":8.290,"y":3.05},{"s":"e","x":8.283,"y":2.97},{"s":"e","x":8.276,"y":2.82},{"s":"e","x":8.270,"y":2.80},{"s":"e","x":8.264,"y":2.88},{"s":"e","x":8.257,"y":2.79},{"s":"e","x":8.248,"y":2.76},{"s":"e","x":8.23,"y":2.75},{"s":"e","x":8.21,"y":2.76},{"s":"e","x":8.19,"y":2.75},{"s":"e","x":8.182,"y":2.77},
{"s":"e","x":8.173,"y":2.90},{"s":"e","x":8.167,"y":3.08},{"s":"e","x":8.159,"y":2.85},{"s":"e","x":8.152,"y":3.06},{"s":"e","x":8.145,"y":2.88},{"s":"e","x":8.137,"y":2.77},{"s":"e","x":8.125,"y":2.76},{"s":"e","x":8.109,"y":2.76},{"s":"e","x":8.104,"y":2.83},{"s":"e","x":8.099,"y":2.76},{"s":"e","x":8.08,"y":2.75},{"s":"e","x":8.06,"y":2.76},{"s":"e","x":8.04,"y":2.75},{"s":"e","x":8.02,"y":2.76},
{"s":"e","x":8.013,"y":2.78},{"s":"e","x":8.006,"y":2.86},{"s":"e","x":8.001,"y":3.05},{"s":"e","x":7.994,"y":3.07},{"s":"e","x":7.990,"y":3.06},{"s":"e","x":7.986,"y":3.11},{"s":"e","x":7.981,"y":3.02},{"s":"e","x":7.976,"y":2.96},{"s":"e","x":7.969,"y":2.92},{"s":"e","x":7.962,"y":2.94},{"s":"e","x":7.955,"y":2.85},{"s":"e","x":7.948,"y":2.81},{"s":"e","x":7.94,"y":2.78},{"s":"e","x":7.93,"y":2.77},
{"s":"e","x":7.90,"y":2.75},{"s":"e","x":7.88,"y":2.76},{"s":"e","x":7.86,"y":2.75},{"s":"e","x":7.84,"y":2.76},{"s":"e","x":7.82,"y":2.74},{"s":"e","x":7.80,"y":2.75},{"s":"e","x":7.78,"y":2.76},{"s":"e","x":7.76,"y":2.75},{"s":"e","x":7.74,"y":2.76},{"s":"e","x":7.72,"y":2.75},{"s":"e","x":7.70,"y":2.76},{"s":"e","x":7.68,"y":2.75},{"s":"e","x":7.66,"y":2.76},{"s":"e","x":7.64,"y":2.75},{"s":"e","x":7.62,"y":2.77},{"s":"e","x":7.60,"y":2.76},{"s":"e","x":7.58,"y":2.75},{"s":"e","x":7.56,"y":2.76},
{"s":"e","x":7.553,"y":2.78},{"s":"e","x":7.545,"y":2.85},{"s":"e","x":7.541,"y":2.92},{"s":"e","x":7.533,"y":2.81},{"s":"e","x":7.526,"y":2.94},{"s":"e","x":7.517,"y":2.81},{"s":"e","x":7.509,"y":2.91},{"s":"e","x":7.501,"y":2.78},{"s":"e","x":7.49,"y":2.76},
{"s":"e","x":7.47,"y":2.75},{"s":"e","x":7.45,"y":2.76},{"s":"e","x":7.43,"y":2.75},{"s":"e","x":7.41,"y":2.76},{"s":"e","x":7.39,"y":2.75},{"s":"e","x":7.37,"y":2.76},

{"s":"f","x":9.54,"y":1.72},{"s":"f","x":9.52,"y":1.70},{"s":"f","x":9.50,"y":1.71},{"s":"f","x":9.48,"y":1.72},{"s":"f","x":9.46,"y":1.70},{"s":"f","x":9.44,"y":1.71},{"s":"f","x":9.42,"y":1.69},{"s":"f","x":9.40,"y":1.71},{"s":"f","x":9.38,"y":1.72},{"s":"f","x":9.37,"y":1.71},
{"s":"f","x":9.366,"y":1.75},{"s":"f","x":9.360,"y":1.85},{"s":"f","x":9.357,"y":2.05},{"s":"f","x":9.3555,"y":2.25},{"s":"f","x":9.354,"y":2.39},{"s":"f","x":9.3525,"y":2.25},{"s":"f","x":9.351,"y":2.05},{"s":"f","x":9.348,"y":1.85},{"s":"f","x":9.342,"y":1.75},
{"s":"f","x":9.33,"y":1.70},{"s":"f","x":9.31,"y":1.71},{"s":"f","x":9.29,"y":1.69},{"s":"f","x":9.27,"y":1.71},{"s":"f","x":9.25,"y":1.70},{"s":"f","x":9.23,"y":1.72},{"s":"f","x":9.21,"y":1.70},{"s":"f","x":9.19,"y":1.71},{"s":"f","x":9.17,"y":1.72},{"s":"f","x":9.15,"y":1.71},{"s":"f","x":9.14,"y":1.72},
{"s":"f","x":9.138,"y":1.76},{"s":"f","x":9.132,"y":1.86},{"s":"f","x":9.129,"y":2.10},{"s":"f","x":9.1275,"y":2.33},{"s":"f","x":9.126,"y":2.48},{"s":"f","x":9.1245,"y":2.33},{"s":"f","x":9.123,"y":2.10},{"s":"f","x":9.120,"y":1.86},{"s":"f","x":9.114,"y":1.76},
{"s":"f","x":9.10,"y":1.71},{"s":"f","x":9.085,"y":1.72},{"s":"f","x":9.07,"y":1.74},{"s":"f","x":9.062,"y":1.80},{"s":"f","x":9.055,"y":1.93},{"s":"f","x":9.050,"y":1.97},{"s":"f","x":9.044,"y":1.94},{"s":"f","x":9.037,"y":1.96},{"s":"f","x":9.030,"y":1.86},{"s":"f","x":9.022,"y":1.76},{"s":"f","x":9.012,"y":1.73},{"s":"f","x":9.000,"y":1.75},
{"s":"f","x":8.993,"y":1.85},{"s":"f","x":8.988,"y":2.01},{"s":"f","x":8.983,"y":1.90},{"s":"f","x":8.978,"y":1.82},{"s":"f","x":8.972,"y":2.02},{"s":"f","x":8.969,"y":2.21},{"s":"f","x":8.963,"y":2.10},{"s":"f","x":8.958,"y":2.12},{"s":"f","x":8.951,"y":2.11},{"s":"f","x":8.946,"y":1.95},{"s":"f","x":8.942,"y":1.83},{"s":"f","x":8.937,"y":1.92},{"s":"f","x":8.932,"y":2.08},{"s":"f","x":8.926,"y":1.90},{"s":"f","x":8.921,"y":1.80},{"s":"f","x":8.916,"y":1.77},{"s":"f","x":8.910,"y":1.80},{"s":"f","x":8.903,"y":1.90},{"s":"f","x":8.896,"y":2.04},{"s":"f","x":8.890,"y":1.92},{"s":"f","x":8.885,"y":1.89},{"s":"f","x":8.879,"y":2.04},{"s":"f","x":8.873,"y":1.86},{"s":"f","x":8.866,"y":1.76},{"s":"f","x":8.858,"y":1.72},
{"s":"f","x":8.84,"y":1.71},{"s":"f","x":8.82,"y":1.70},{"s":"f","x":8.80,"y":1.72},{"s":"f","x":8.78,"y":1.71},{"s":"f","x":8.76,"y":1.70},{"s":"f","x":8.74,"y":1.72},{"s":"f","x":8.72,"y":1.71},{"s":"f","x":8.70,"y":1.70},{"s":"f","x":8.68,"y":1.71},{"s":"f","x":8.66,"y":1.72},{"s":"f","x":8.64,"y":1.70},{"s":"f","x":8.62,"y":1.71},{"s":"f","x":8.60,"y":1.70},{"s":"f","x":8.58,"y":1.72},{"s":"f","x":8.56,"y":1.71},{"s":"f","x":8.54,"y":1.70},{"s":"f","x":8.52,"y":1.71},{"s":"f","x":8.50,"y":1.73},
{"s":"f","x":8.490,"y":1.77},{"s":"f","x":8.483,"y":1.83},{"s":"f","x":8.478,"y":1.88},{"s":"f","x":8.470,"y":1.80},{"s":"f","x":8.464,"y":1.86},{"s":"f","x":8.458,"y":2.00},{"s":"f","x":8.452,"y":1.85},{"s":"f","x":8.446,"y":1.80},{"s":"f","x":8.439,"y":1.85},{"s":"f","x":8.432,"y":1.76},{"s":"f","x":8.42,"y":1.72},{"s":"f","x":8.40,"y":1.71},{"s":"f","x":8.38,"y":1.70},{"s":"f","x":8.36,"y":1.72},{"s":"f","x":8.34,"y":1.71},{"s":"f","x":8.325,"y":1.73},
{"s":"f","x":8.318,"y":1.80},{"s":"f","x":8.312,"y":1.95},{"s":"f","x":8.307,"y":2.07},{"s":"f","x":8.300,"y":1.98},{"s":"f","x":8.293,"y":2.02},{"s":"f","x":8.288,"y":1.95},{"s":"f","x":8.285,"y":1.97},{"s":"f","x":8.279,"y":1.85},{"s":"f","x":8.272,"y":1.78},{"s":"f","x":8.265,"y":1.85},{"s":"f","x":8.258,"y":1.76},{"s":"f","x":8.25,"y":1.72},{"s":"f","x":8.23,"y":1.71},{"s":"f","x":8.21,"y":1.70},{"s":"f","x":8.19,"y":1.72},
{"s":"f","x":8.182,"y":1.76},{"s":"f","x":8.176,"y":1.90},{"s":"f","x":8.170,"y":2.02},{"s":"f","x":8.163,"y":1.87},{"s":"f","x":8.156,"y":2.03},{"s":"f","x":8.150,"y":1.85},{"s":"f","x":8.142,"y":1.73},{"s":"f","x":8.13,"y":1.71},{"s":"f","x":8.11,"y":1.72},{"s":"f","x":8.104,"y":1.78},{"s":"f","x":8.100,"y":1.72},{"s":"f","x":8.08,"y":1.71},{"s":"f","x":8.06,"y":1.70},{"s":"f","x":8.04,"y":1.72},{"s":"f","x":8.025,"y":1.74},
{"s":"f","x":8.012,"y":1.80},{"s":"f","x":8.006,"y":1.98},{"s":"f","x":8.001,"y":2.14},{"s":"f","x":7.995,"y":1.99},{"s":"f","x":7.989,"y":2.17},{"s":"f","x":7.983,"y":2.00},{"s":"f","x":7.977,"y":1.88},{"s":"f","x":7.969,"y":1.89},{"s":"f","x":7.962,"y":1.78},{"s":"f","x":7.952,"y":1.74},{"s":"f","x":7.94,"y":1.72},{"s":"f","x":7.92,"y":1.71},
{"s":"f","x":7.90,"y":1.71},{"s":"f","x":7.88,"y":1.72},{"s":"f","x":7.86,"y":1.70},{"s":"f","x":7.84,"y":1.71},{"s":"f","x":7.82,"y":1.72},{"s":"f","x":7.80,"y":1.70},{"s":"f","x":7.78,"y":1.71},{"s":"f","x":7.76,"y":1.72},{"s":"f","x":7.74,"y":1.71},{"s":"f","x":7.72,"y":1.70},{"s":"f","x":7.70,"y":1.71},{"s":"f","x":7.68,"y":1.72},{"s":"f","x":7.66,"y":1.71},{"s":"f","x":7.64,"y":1.70},{"s":"f","x":7.62,"y":1.71},{"s":"f","x":7.60,"y":1.72},{"s":"f","x":7.58,"y":1.71},{"s":"f","x":7.56,"y":1.73},
{"s":"f","x":7.550,"y":1.76},{"s":"f","x":7.543,"y":1.89},{"s":"f","x":7.535,"y":1.80},{"s":"f","x":7.526,"y":1.91},{"s":"f","x":7.517,"y":1.80},{"s":"f","x":7.509,"y":1.87},{"s":"f","x":7.500,"y":1.74},{"s":"f","x":7.49,"y":1.72},{"s":"f","x":7.47,"y":1.71},{"s":"f","x":7.45,"y":1.70},{"s":"f","x":7.43,"y":1.71},{"s":"f","x":7.41,"y":1.69},{"s":"f","x":7.39,"y":1.70},{"s":"f","x":7.37,"y":1.71},

{"s":"g","x":9.54,"y":0.63},{"s":"g","x":9.51,"y":0.635},{"s":"g","x":9.48,"y":0.63},{"s":"g","x":9.45,"y":0.625},{"s":"g","x":9.42,"y":0.63},{"s":"g","x":9.39,"y":0.635},{"s":"g","x":9.37,"y":0.64},
{"s":"g","x":9.359,"y":0.68},{"s":"g","x":9.353,"y":0.79},{"s":"g","x":9.350,"y":1.02},{"s":"g","x":9.3485,"y":1.25},{"s":"g","x":9.347,"y":1.41},{"s":"g","x":9.3455,"y":1.25},{"s":"g","x":9.344,"y":1.02},{"s":"g","x":9.341,"y":0.79},{"s":"g","x":9.335,"y":0.68},
{"s":"g","x":9.32,"y":0.64},{"s":"g","x":9.29,"y":0.63},{"s":"g","x":9.26,"y":0.635},{"s":"g","x":9.23,"y":0.63},{"s":"g","x":9.20,"y":0.625},{"s":"g","x":9.17,"y":0.635},{"s":"g","x":9.15,"y":0.64},
{"s":"g","x":9.141,"y":0.68},{"s":"g","x":9.135,"y":0.81},{"s":"g","x":9.132,"y":1.07},{"s":"g","x":9.1305,"y":1.34},{"s":"g","x":9.129,"y":1.52},{"s":"g","x":9.1275,"y":1.34},{"s":"g","x":9.126,"y":1.07},{"s":"g","x":9.123,"y":0.81},{"s":"g","x":9.117,"y":0.68},
{"s":"g","x":9.10,"y":0.64},{"s":"g","x":9.07,"y":0.635},{"s":"g","x":9.045,"y":0.64},{"s":"g","x":9.03,"y":0.66},
{"s":"g","x":9.022,"y":0.70},{"s":"g","x":9.016,"y":0.80},{"s":"g","x":9.010,"y":0.94},{"s":"g","x":9.004,"y":0.84},{"s":"g","x":8.997,"y":0.97},{"s":"g","x":8.990,"y":0.79},{"s":"g","x":8.983,"y":0.98},{"s":"g","x":8.976,"y":0.78},{"s":"g","x":8.971,"y":0.92},{"s":"g","x":8.967,"y":1.25},{"s":"g","x":8.964,"y":1.46},{"s":"g","x":8.961,"y":1.25},{"s":"g","x":8.957,"y":1.04},{"s":"g","x":8.953,"y":1.00},{"s":"g","x":8.948,"y":0.84},{"s":"g","x":8.943,"y":0.98},{"s":"g","x":8.940,"y":1.03},{"s":"g","x":8.936,"y":0.90},{"s":"g","x":8.930,"y":0.72},{"s":"g","x":8.922,"y":0.66},
{"s":"g","x":8.912,"y":0.66},{"s":"g","x":8.904,"y":0.70},{"s":"g","x":8.898,"y":0.80},{"s":"g","x":8.892,"y":0.95},{"s":"g","x":8.884,"y":0.82},{"s":"g","x":8.877,"y":0.94},{"s":"g","x":8.871,"y":0.78},{"s":"g","x":8.863,"y":0.67},
{"s":"g","x":8.85,"y":0.64},{"s":"g","x":8.82,"y":0.635},{"s":"g","x":8.79,"y":0.63},{"s":"g","x":8.76,"y":0.635},{"s":"g","x":8.73,"y":0.63},{"s":"g","x":8.70,"y":0.625},{"s":"g","x":8.67,"y":0.63},{"s":"g","x":8.64,"y":0.635},{"s":"g","x":8.61,"y":0.63},{"s":"g","x":8.58,"y":0.625},{"s":"g","x":8.55,"y":0.63},{"s":"g","x":8.52,"y":0.635},{"s":"g","x":8.505,"y":0.645},
{"s":"g","x":8.496,"y":0.67},{"s":"g","x":8.489,"y":0.74},{"s":"g","x":8.484,"y":0.80},{"s":"g","x":8.477,"y":0.72},{"s":"g","x":8.471,"y":0.80},{"s":"g","x":8.465,"y":0.94},{"s":"g","x":8.458,"y":0.76},{"s":"g","x":8.451,"y":0.72},{"s":"g","x":8.445,"y":0.78},{"s":"g","x":8.438,"y":0.68},{"s":"g","x":8.428,"y":0.645},
{"s":"g","x":8.41,"y":0.635},{"s":"g","x":8.38,"y":0.63},{"s":"g","x":8.35,"y":0.635},{"s":"g","x":8.33,"y":0.645},
{"s":"g","x":8.322,"y":0.68},{"s":"g","x":8.316,"y":0.80},{"s":"g","x":8.310,"y":0.98},{"s":"g","x":8.303,"y":0.88},{"s":"g","x":8.296,"y":1.05},{"s":"g","x":8.288,"y":0.71},{"s":"g","x":8.279,"y":0.92},{"s":"g","x":8.270,"y":0.68},{"s":"g","x":8.259,"y":0.78},{"s":"g","x":8.252,"y":0.67},{"s":"g","x":8.244,"y":0.645},
{"s":"g","x":8.23,"y":0.635},{"s":"g","x":8.21,"y":0.63},{"s":"g","x":8.195,"y":0.645},
{"s":"g","x":8.186,"y":0.68},{"s":"g","x":8.179,"y":0.80},{"s":"g","x":8.173,"y":1.00},{"s":"g","x":8.164,"y":0.86},{"s":"g","x":8.156,"y":0.96},{"s":"g","x":8.150,"y":0.78},{"s":"g","x":8.142,"y":0.67},
{"s":"g","x":8.13,"y":0.64},{"s":"g","x":8.10,"y":0.63},{"s":"g","x":8.07,"y":0.635},{"s":"g","x":8.04,"y":0.64},{"s":"g","x":8.025,"y":0.655},
{"s":"g","x":8.016,"y":0.69},{"s":"g","x":8.009,"y":0.88},{"s":"g","x":8.003,"y":1.13},{"s":"g","x":7.996,"y":0.87},{"s":"g","x":7.989,"y":1.15},{"s":"g","x":7.982,"y":0.85},{"s":"g","x":7.976,"y":0.76},{"s":"g","x":7.971,"y":0.83},{"s":"g","x":7.966,"y":0.70},{"s":"g","x":7.956,"y":0.655},
{"s":"g","x":7.94,"y":0.64},{"s":"g","x":7.91,"y":0.635},{"s":"g","x":7.88,"y":0.63},{"s":"g","x":7.85,"y":0.635},{"s":"g","x":7.82,"y":0.63},{"s":"g","x":7.79,"y":0.625},{"s":"g","x":7.76,"y":0.63},{"s":"g","x":7.73,"y":0.635},{"s":"g","x":7.70,"y":0.63},{"s":"g","x":7.67,"y":0.625},{"s":"g","x":7.64,"y":0.63},{"s":"g","x":7.61,"y":0.635},{"s":"g","x":7.58,"y":0.63},{"s":"g","x":7.56,"y":0.64},
{"s":"g","x":7.551,"y":0.66},{"s":"g","x":7.544,"y":0.72},{"s":"g","x":7.538,"y":0.83},{"s":"g","x":7.531,"y":0.70},{"s":"g","x":7.523,"y":0.84},{"s":"g","x":7.514,"y":0.70},{"s":"g","x":7.505,"y":0.81},{"s":"g","x":7.499,"y":0.68},{"s":"g","x":7.490,"y":0.645},
{"s":"g","x":7.47,"y":0.63},{"s":"g","x":7.44,"y":0.625},{"s":"g","x":7.41,"y":0.63},{"s":"g","x":7.37,"y":0.625}
],
"gxa": [{"g":9.54},{"g":9.5},{"g":9.4},{"g":9.3},{"g":9.2},{"g":9.1},{"g":9.0},{"g":8.9},{"g":8.8},{"g":8.7},{"g":8.6},{"g":8.5},{"g":8.4},{"g":8.3},{"g":8.2},{"g":8.1},{"g":8.0},{"g":7.9},{"g":7.8},{"g":7.7},{"g":7.6},{"g":7.5},{"g":7.4},{"g":7.37}],
"gya": [{"g":0.5},{"g":1},{"g":1.5},{"g":2},{"g":2.5},{"g":3},{"g":3.5},{"g":4},{"g":4.5},{"g":5},{"g":5.5},{"g":6},{"g":6.5},{"g":7},{"g":7.5}],
"circ": [{"x":9.134,"y":7.15},{"x":9.058,"y":7.31},{"x":8.892,"y":7.27},{"x":8.852,"y":7.29},{"x":8.388,"y":7.12},{"x":8.158,"y":7.14},{"x":7.913,"y":7.04},
{"x":9.148,"y":6.33},{"x":9.063,"y":6.24},{"x":8.932,"y":6.29},{"x":8.858,"y":6.13},{"x":8.452,"y":6.27},{"x":8.175,"y":6.27},{"x":7.987,"y":6.35},
{"x":9.167,"y":1.38},{"x":9.008,"y":1.21},{"x":8.936,"y":1.53},{"x":8.885,"y":1.19},{"x":8.468,"y":1.23},{"x":8.167,"y":1.18},{"x":7.996,"y":1.34}],
"diam": [{"x":9.388,"y":1.36,"k":"t"},{"x":8.978,"y":1.50,"k":"t"},{"x":8.942,"y":1.21,"k":"t"},{"x":8.304,"y":1.25,"k":"q"},{"x":8.261,"y":1.03,"k":"q"},{"x":7.521,"y":1.28,"k":"q"}],
"dash": [
{"x1":9.120,"y1":6.57,"x2":9.083,"y2":6.17},{"x1":9.086,"y1":6.58,"x2":9.107,"y2":6.28},{"x1":8.885,"y1":6.64,"x2":8.923,"y2":6.22},{"x1":8.868,"y1":6.62,"x2":8.885,"y2":6.21},{"x1":8.391,"y1":6.57,"x2":8.450,"y2":6.14},{"x1":8.165,"y1":6.56,"x2":8.161,"y2":6.31},{"x1":7.912,"y1":6.57,"x2":7.987,"y2":6.22},
{"x1":9.064,"y1":5.56,"x2":9.058,"y2":5.22},{"x1":8.928,"y1":5.64,"x2":8.928,"y2":5.33},{"x1":8.881,"y1":5.64,"x2":8.881,"y2":5.33},{"x1":8.452,"y1":5.59,"x2":8.452,"y2":5.28},{"x1":8.159,"y1":5.64,"x2":8.159,"y2":5.33},{"x1":7.991,"y1":5.66,"x2":7.991,"y2":5.35},
{"x1":9.060,"y1":4.66,"x2":9.054,"y2":4.34},{"x1":8.929,"y1":4.66,"x2":8.929,"y2":4.35},{"x1":8.882,"y1":4.66,"x2":8.882,"y2":4.36},{"x1":8.450,"y1":4.54,"x2":8.450,"y2":4.23},{"x1":8.159,"y1":4.65,"x2":8.159,"y2":4.34},{"x1":7.993,"y1":4.59,"x2":7.993,"y2":4.29},
{"x1":9.056,"y1":3.69,"x2":9.050,"y2":3.36},{"x1":8.936,"y1":3.59,"x2":8.936,"y2":3.28},{"x1":8.891,"y1":3.61,"x2":8.891,"y2":3.29},{"x1":8.454,"y1":3.49,"x2":8.454,"y2":3.18},{"x1":8.158,"y1":3.70,"x2":8.158,"y2":3.39},{"x1":7.988,"y1":3.64,"x2":7.988,"y2":3.33},
{"x1":9.048,"y1":2.55,"x2":9.042,"y2":2.22},{"x1":8.944,"y1":2.54,"x2":8.944,"y2":2.24},{"x1":8.889,"y1":2.55,"x2":8.889,"y2":2.25},{"x1":8.458,"y1":2.44,"x2":8.458,"y2":2.13},{"x1":8.159,"y1":2.57,"x2":8.159,"y2":2.26},{"x1":7.995,"y1":2.58,"x2":7.995,"y2":2.27},
{"x1":9.049,"y1":1.73,"x2":9.024,"y2":1.40},{"x1":8.936,"y1":1.66,"x2":8.936,"y2":1.35},{"x1":8.887,"y1":1.67,"x2":8.887,"y2":1.36},{"x1":8.467,"y1":1.71,"x2":8.467,"y2":1.40},{"x1":8.159,"y1":1.70,"x2":8.159,"y2":1.39},{"x1":7.998,"y1":1.82,"x2":7.998,"y2":1.51}],
"lab": [{"t":"0,10 mM","x":7.383,"y":6.94},{"t":"0,21 mM","x":7.383,"y":6.14},{"t":"0,25 mM","x":7.385,"y":5.13},{"t":"0,30 mM","x":7.385,"y":4.13},{"t":"0,39 mM","x":7.385,"y":3.00},{"t":"0,54 mM","x":7.385,"y":2.07},{"t":"2.72 mM","x":7.379,"y":0.94}],
"gxb": [{"g":1},{"g":2},{"g":3},{"g":4}],
"gyb": [{"g":20},{"g":40},{"g":60},{"g":80},{"g":100}],
"pts": [{"ser":"1NO3","c":0.10,"p":100},{"ser":"1NO3","c":0.20,"p":79.6},{"ser":"1NO3","c":0.245,"p":78.8},{"ser":"1NO3","c":0.305,"p":74.3},{"ser":"1NO3","c":0.39,"p":72.3},{"ser":"1NO3","c":0.46,"p":70.2},{"ser":"1NO3","c":0.54,"p":67.8},{"ser":"1NO3","c":0.90,"p":65.8},{"ser":"1NO3","c":2.72,"p":65.8},{"ser":"1NO3","c":4.54,"p":65.8},
{"ser":"1(L)2","c":0.10,"p":0},{"ser":"1(L)2","c":0.20,"p":19.8},{"ser":"1(L)2","c":0.245,"p":20.6},{"ser":"1(L)2","c":0.305,"p":24.5},{"ser":"1(L)2","c":0.39,"p":26.5},{"ser":"1(L)2","c":0.46,"p":28.3},{"ser":"1(L)2","c":0.54,"p":31.6},{"ser":"1(L)2","c":0.90,"p":33.6},{"ser":"1(L)2","c":2.72,"p":33.6},{"ser":"1(L)2","c":4.54,"p":33.6}]
},
"layer": [
{
"resolve": {"axis": {"x": "independent", "y": "independent"}},
"layer": [
{"data":{"name":"gxa"},"mark":{"type":"rule","color":"#c9c9c9","strokeWidth":1.3},
 "encoding":{"x":{"field":"g","type":"quantitative","scale":{"domain":[9.54,7.37],"range":[89,1142.7],"nice":false,"zero":false},"axis":null},
 "y":{"datum":0.5,"scale":{"domain":[0.5,7.5],"range":[714,33.5],"nice":false,"zero":false},"axis":null},"y2":{"datum":7.5}}},
{"data":{"name":"gya"},"mark":{"type":"rule","color":"#c9c9c9","strokeWidth":1.3},
 "encoding":{"y":{"field":"g","type":"quantitative","scale":{"domain":[0.5,7.5],"range":[714,33.5],"nice":false,"zero":false},"axis":null},
 "x":{"datum":9.54,"scale":{"domain":[9.54,7.37],"range":[89,1142.7],"nice":false,"zero":false},"axis":null},"x2":{"datum":7.37}}},
{"data":{"name":"spec"},"mark":{"type":"line","strokeWidth":1.1},
 "encoding":{
 "x":{"field":"x","type":"quantitative","scale":{"domain":[9.54,7.37],"range":[89,1142.7],"nice":false,"zero":false},
   "axis":{"orient":"bottom","offset":-688,"grid":false,
   "values":[9.5,9.4,9.3,9.2,9.1,9.0,8.9,8.8,8.7,8.6,8.5,8.4,8.3,8.2,8.1,8.0,7.9,7.8,7.7,7.6,7.5,7.4],
   "format":".1f","tickSize":7,
   "domainColor":"#3a3a3a","domainWidth":1.5,"tickColor":"#3a3a3a","tickWidth":1,
   "labelFont":"Liberation Sans Narrow, Liberation Sans","labelFontSize":16,"labelColor":"#222222","labelPadding":4.5,"labelOverlap":false,"labelFlush":false,
   "title":"f1 (ppm)","titleFont":"Liberation Sans Narrow, Liberation Sans","titleFontSize":14,"titleFontWeight":"normal","titleColor":"#222222","titleY":38.5,"titleBaseline":"alphabetic"}},
 "y":{"field":"y","type":"quantitative","scale":{"domain":[0.5,7.5],"range":[714,33.5],"nice":false,"zero":false},
   "axis":{"orient":"right","offset":-20,"grid":false,"values":[1,2,3,4,5,6,7],"format":"d",
   "domainColor":"#555555","domainWidth":2,"tickColor":"#333333","tickSize":5,"tickWidth":1,
   "labelFont":"Liberation Sans Narrow, Liberation Sans","labelFontSize":13,"labelColor":"#222222","labelPadding":5,"title":null}},
 "color":{"field":"s","type":"nominal","scale":{"domain":["a","b","c","d","e","f","g"],"range":["#7e1e80","#3a1d8e","#1c5a8c","#17805f","#3a8b22","#8b7c14","#8b1a1a"]},"legend":null}}},
{"data":{"name":"dash"},"mark":{"type":"rule","color":"#ff0000","strokeWidth":2,"strokeDash":[5,3]},
 "encoding":{"x":{"field":"x1","type":"quantitative","scale":{"domain":[9.54,7.37],"range":[89,1142.7],"nice":false,"zero":false},"axis":null},"x2":{"field":"x2"},
 "y":{"field":"y1","type":"quantitative","scale":{"domain":[0.5,7.5],"range":[714,33.5],"nice":false,"zero":false},"axis":null},"y2":{"field":"y2"}}},
{"data":{"name":"circ"},"mark":{"type":"point","shape":"circle","filled":true,"size":270,"color":"#ff0000","opacity":1},
 "encoding":{"x":{"field":"x","type":"quantitative","scale":{"domain":[9.54,7.37],"range":[89,1142.7],"nice":false,"zero":false},
   "axis":{"orient":"bottom","offset":-688,"grid":false,"labels":false,"domain":false,"ticks":true,"tickSize":4,"tickColor":"#3a3a3a","tickWidth":1,"title":null,
   "values":[9.45,9.35,9.25,9.15,9.05,8.95,8.85,8.75,8.65,8.55,8.45,8.35,8.25,8.15,8.05,7.95,7.85,7.75,7.65,7.55,7.45]}},
 "y":{"field":"y","type":"quantitative","scale":{"domain":[0.5,7.5],"range":[714,33.5],"nice":false,"zero":false},"axis":null}}},
{"data":{"name":"diam"},"mark":{"type":"point","filled":true,"size":400,"color":"#4472c4","opacity":1,"stroke":"#2f528f","strokeWidth":1},
 "encoding":{"x":{"field":"x","type":"quantitative","scale":{"domain":[9.54,7.37],"range":[89,1142.7],"nice":false,"zero":false},"axis":null},
 "y":{"field":"y","type":"quantitative","scale":{"domain":[0.5,7.5],"range":[714,33.5],"nice":false,"zero":false},"axis":null},
 "shape":{"field":"k","type":"nominal","scale":{"domain":["t","q"],"range":["M0,-1L0.55,0L0,1L-0.55,0Z","M0,-0.75L0.75,0L0,0.75L-0.75,0Z"]},"legend":null}}},
{"data":{"name":"lab"},"mark":{"type":"text","align":"right","baseline":"alphabetic","fontSize":19,"color":"#ff0000","font":"Open Sans"},
 "encoding":{"x":{"field":"x","type":"quantitative","scale":{"domain":[9.54,7.37],"range":[89,1142.7],"nice":false,"zero":false},"axis":null},
 "y":{"field":"y","type":"quantitative","scale":{"domain":[0.5,7.5],"range":[714,33.5],"nice":false,"zero":false},"axis":null},"text":{"field":"t"}}},
{"data":{"values":[{}]},"mark":{"type":"text","text":"H","align":"left","baseline":"alphabetic","fontSize":26,"fontWeight":"bold","font":"Liberation Sans","color":"#000000"},
 "encoding":{"x":{"datum":9.2664,"scale":{"domain":[9.54,7.37],"range":[89,1142.7],"nice":false,"zero":false},"axis":null},"y":{"datum":6.848,"scale":{"domain":[0.5,7.5],"range":[714,33.5],"nice":false,"zero":false},"axis":null}}},
{"data":{"values":[{}]},"mark":{"type":"text","text":"6,6’’","align":"left","baseline":"alphabetic","fontSize":17,"fontWeight":"bold","font":"Liberation Sans","color":"#000000"},
 "encoding":{"x":{"datum":9.2287,"scale":{"domain":[9.54,7.37],"range":[89,1142.7],"nice":false,"zero":false},"axis":null},"y":{"datum":6.944,"scale":{"domain":[0.5,7.5],"range":[714,33.5],"nice":false,"zero":false},"axis":null}}},
{"data":{"values":[{}]},"mark":{"type":"text","text":"(a)","align":"left","baseline":"alphabetic","fontSize":24,"font":"Open Sans","color":"#222222"},
 "encoding":{"x":{"datum":9.706,"scale":{"domain":[9.54,7.37],"range":[89,1142.7],"nice":false,"zero":false},"axis":null},"y":{"datum":7.513,"scale":{"domain":[0.5,7.5],"range":[714,33.5],"nice":false,"zero":false},"axis":null}}}
]
},
{
"resolve": {"axis": {"x": "independent", "y": "independent"}},
"layer": [
{"data":{"values":[{}]},"mark":{"type":"rect","fillOpacity":0,"stroke":"#d9d9d9","strokeWidth":1.5},
 "encoding":{"x":{"datum":-0.83,"scale":{"domain":[0,5],"range":[227,1108],"nice":false,"zero":false},"axis":null},"x2":{"datum":5.22},
 "y":{"datum":129.35,"scale":{"domain":[0,120],"range":[1232,825],"nice":false,"zero":false},"axis":null},"y2":{"datum":-60}}},
{"data":{"name":"gxb"},"mark":{"type":"rule","color":"#d9d9d9","strokeWidth":1.5},
 "encoding":{"x":{"field":"g","type":"quantitative","scale":{"domain":[0,5],"range":[227,1108],"nice":false,"zero":false},
   "axis":{"orient":"bottom","offset":-195,"grid":false,"labels":false,"domain":false,"ticks":true,"tickSize":6,"tickColor":"#000000","tickWidth":1.5,"title":null,
   "values":[0.2,0.4,0.6,0.8,1.2,1.4,1.6,1.8,2.2,2.4,2.6,2.8,3.2,3.4,3.6,3.8,4.2,4.4,4.6,4.8]}},
 "y":{"datum":0,"scale":{"domain":[0,120],"range":[1232,825],"nice":false,"zero":false},"axis":null},"y2":{"datum":120}}},
{"data":{"name":"gyb"},"mark":{"type":"rule","color":"#d9d9d9","strokeWidth":1.5},
 "encoding":{"y":{"field":"g","type":"quantitative","scale":{"domain":[0,120],"range":[1232,825],"nice":false,"zero":false},"axis":null},
 "x":{"datum":0,"scale":{"domain":[0,5],"range":[227,1108],"nice":false,"zero":false},"axis":null},"x2":{"datum":5}}},
{"data":{"values":[{}]},"mark":{"type":"rule","color":"#000000","strokeWidth":2},
 "encoding":{"y":{"datum":120,"scale":{"domain":[0,120],"range":[1232,825],"nice":false,"zero":false},"axis":null},
 "x":{"datum":0,"scale":{"domain":[0,5],"range":[227,1108],"nice":false,"zero":false},"axis":null},"x2":{"datum":5}}},
{"data":{"values":[{}]},"mark":{"type":"rule","color":"#000000","strokeWidth":2},
 "encoding":{"x":{"datum":5,"scale":{"domain":[0,5],"range":[227,1108],"nice":false,"zero":false},"axis":null},
 "y":{"datum":0,"scale":{"domain":[0,120],"range":[1232,825],"nice":false,"zero":false},"axis":null},"y2":{"datum":120}}},
{"data":{"values":[{}]},"mark":{"type":"text","text":"(b)","align":"left","baseline":"alphabetic","fontSize":24,"font":"Open Sans","color":"#222222"},
 "encoding":{"x":{"datum":-1.243,"scale":{"domain":[0,5],"range":[227,1108],"nice":false,"zero":false},"axis":null},"y":{"datum":132.4,"scale":{"domain":[0,120],"range":[1232,825],"nice":false,"zero":false},"axis":null}}},
{"data":{"name":"pts"},"mark":{"type":"point","filled":true,"size":225,"opacity":1},
 "encoding":{
 "x":{"field":"c","type":"quantitative","scale":{"domain":[0,5],"range":[227,1108],"nice":false,"zero":false},
   "axis":{"orient":"bottom","offset":-195,"grid":false,
   "values":[0,1,2,3,4,5],"format":"d","tickSize":9,
   "domainColor":"#000000","domainWidth":2,"tickColor":"#000000","tickWidth":1.5,
   "labelFont":"Open Sans","labelFontSize":22,"labelColor":"#595959","labelPadding":15.5,"labelOverlap":false,"labelFlush":false,
   "title":"concentration","titleFont":"Open Sans","titleFontSize":24,"titleFontWeight":"normal","titleColor":"#595959","titleY":88,"titleBaseline":"alphabetic"}},
 "y":{"field":"p","type":"quantitative","scale":{"domain":[0,120],"range":[1232,825],"nice":false,"zero":false},
   "axis":{"orient":"left","offset":-227,"grid":false,
   "values":[0,4,8,12,16,20,24,28,32,36,40,44,48,52,56,60,64,68,72,76,80,84,88,92,96,100,104,108,112,116,120],
   "labelExpr":"datum.value % 20 === 0 ? '' + datum.value : ''",
   "domainColor":"#000000","domainWidth":2,"tickColor":"#000000","tickWidth":1.5,"tickSize":8,
   "labelFont":"Open Sans","labelFontSize":22,"labelColor":"#595959","labelPadding":19,"labelOverlap":false,"labelFlush":false,
   "title":"%","titleFont":"Open Sans","titleFontSize":24,"titleFontWeight":"normal","titleColor":"#595959","titleAngle":-90,"titleX":-90,"titleY":1030,"titleAlign":"center","titleBaseline":"middle"}},
 "color":{"field":"ser","type":"nominal","scale":{"domain":["1NO3","1(L)2"],"range":["#4472c4","#ed7d31"]},
   "legend":{"orient":"none","legendX":528,"legendY":1379,"direction":"horizontal","title":null,"symbolType":"circle","symbolSize":196,"symbolStrokeWidth":0,"labelFont":"Open Sans","labelFontSize":22,"labelColor":"#595959","labelOffset":1,"columnPadding":20,"padding":0}}}}
]
}
],
"resolve": {"scale": {"x": "independent", "y": "independent", "color": "independent"}, "axis": {"x": "independent", "y": "independent"}, "legend": {"color": "independent"}}
}
